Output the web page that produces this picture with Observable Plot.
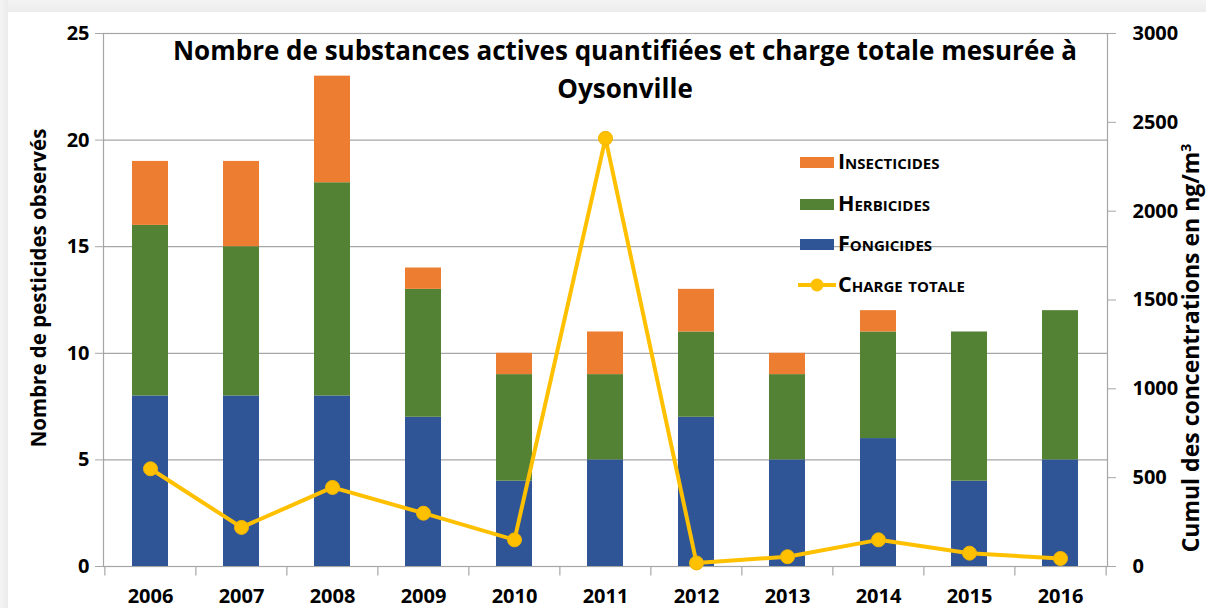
<!DOCTYPE html>
<html>
<head>
<meta charset="utf-8">
<script src="https://cdn.jsdelivr.net/npm/d3@7"></script>
<script src="https://cdn.jsdelivr.net/npm/@observablehq/plot@0.6"></script>
<style>
  html, body { margin: 0; padding: 0; background: #fff; }
  #wrap { position: relative; width: 1206px; height: 608px; overflow: hidden; font-family: "Open Sans", sans-serif; }
  #bgTop { position: absolute; left: 0; top: 0; width: 1206px; height: 12px; background: linear-gradient(#f4f4f4, #ececec); }
  #bgLeft { position: absolute; left: 0; top: 0; width: 8px; height: 608px; background: linear-gradient(90deg, #f4f4f4, #ececec); }
  #title { position: absolute; left: 125px; top: 31px; width: 1000px; text-align: center; font-weight: bold; font-size: 26px; line-height: 38px; color: #000; }
  #legend { position: absolute; left: 797px; top: 149px; font-weight: bold; font-variant: small-caps; font-size: 21.5px; color: #000; }
  .row { position: absolute; left: 0; height: 26px; white-space: nowrap; }
  .sw { position: absolute; left: 3px; top: 8px; width: 34px; height: 11px; }
  .lbl { position: absolute; left: 41px; top: -3px; letter-spacing: 0px; }
  #ylabL { position: absolute; left: 38px; top: 288px; transform: translate(-50%, -50%) rotate(-90deg); font-weight: bold; font-size: 20.5px; line-height: 24px; white-space: nowrap; }
  #ylabR { position: absolute; left: 1188px; top: 348px; transform: translate(-50%, -50%) rotate(-90deg); font-weight: bold; font-size: 23px; line-height: 24px; white-space: nowrap; }
  svg { position: absolute; left: 0; top: 0; }
</style>
</head>
<body>
<div id="wrap">
  <div id="bgTop"></div>
  <div id="bgLeft"></div>
</div>
<script>
const years = ["2006","2007","2008","2009","2010","2011","2012","2013","2014","2015","2016"];
const fongicides   = [8, 8, 8, 7, 4, 5, 7, 5, 6, 4, 5];
const herbicides   = [8, 7, 10, 6, 5, 4, 4, 4, 5, 7, 7];
const insecticides = [3, 4, 5, 1, 1, 2, 2, 1, 1, 0, 0];
const chargeTotale = [550, 220, 445, 300, 150, 2410, 20, 55, 150, 75, 45];
const types = ["Fongicides", "Herbicides", "Insecticides"];
const typeColors = ["#2F5597", "#548235", "#ED7D31"];
const leftTicks = [0, 5, 10, 15, 20, 25];
const rightTicks = [0, 500, 1000, 1500, 2000, 2500, 3000];
const titleText = "Nombre de substances actives quantifiées et charge totale mesurée à Oysonville";
const yLabelLeft = "Nombre de pesticides observés";
const yLabelRight = "Cumul des concentrations en ng/m³";
const legendLabels = ["Insecticides", "Herbicides", "Fongicides", "Charge totale"];

const series = [fongicides, herbicides, insecticides];
const bars = [];
types.forEach((t, i) => years.forEach((y, j) => bars.push({year: y, type: t, value: series[i][j]})));
const line = years.map((y, j) => ({year: y, charge: chargeTotale[j]}));
const k = 25 / 3000; // right axis -> left axis units

const W = 1206, H = 608, mL = 103, mR = 99, mT = 33, mB = 42;
const step = (W - mL - mR) / years.length;

const chart = Plot.plot({
  width: W, height: H,
  marginLeft: mL, marginRight: mR, marginTop: mT, marginBottom: mB,
  style: {fontFamily: "Open Sans, sans-serif", fontWeight: "bold", fontSize: "20px", color: "#000", background: "transparent", overflow: "visible"},
  x: {domain: years, paddingInner: 0.6, paddingOuter: 0.3, axis: null},
  y: {domain: [0, 25], axis: null},
  color: {domain: types, range: typeColors},
  marks: [
    Plot.ruleY(leftTicks, {stroke: "#a6a6a6", strokeWidth: 1.2}),
    Plot.frame({stroke: "#a6a6a6", strokeWidth: 1.2}),
    Plot.axisY({anchor: "left", label: null, ticks: leftTicks, tickSize: 8, tickPadding: 6, stroke: "#a6a6a6", fill: "#000", fontSize: 20, fontWeight: "bold"}),
    Plot.axisY({anchor: "right", label: null, ticks: rightTicks.map(v => v * k), tickFormat: d => String(Math.round(d / k)), tickSize: 8, tickPadding: 17, stroke: "#a6a6a6", fill: "#000", fontSize: 20, fontWeight: "bold"}),
    Plot.axisX({label: null, ticks: years, tickSize: 0, tickPadding: 22, fill: "#000", fontSize: 20, fontWeight: "bold"}),
    Plot.ruleX(years, {x: d => d, dx: -step / 2, y1: 0, y2: -0.45, stroke: "#a6a6a6", strokeWidth: 1.2}),
    Plot.ruleX([years[years.length - 1]], {x: d => d, dx: step / 2, y1: 0, y2: -0.45, stroke: "#a6a6a6", strokeWidth: 1.2}),
    Plot.barY(bars, {x: "year", y: "value", fill: "type"}),
    Plot.line(line, {x: "year", y: d => d.charge * k, stroke: "#FFC000", strokeWidth: 4}),
    Plot.dot(line, {x: "year", y: d => d.charge * k, r: 7, fill: "#FFC000", stroke: "#F2B600", strokeWidth: 1})
  ]
});

const wrap = document.getElementById("wrap");
wrap.appendChild(chart);

const title = document.createElement("div");
title.id = "title";
const cut = titleText.lastIndexOf(" ");
title.innerHTML = titleText.slice(0, cut) + "<br>" + titleText.slice(cut + 1);
wrap.appendChild(title);

const yl = document.createElement("div"); yl.id = "ylabL"; yl.textContent = yLabelLeft; wrap.appendChild(yl);
const yr = document.createElement("div"); yr.id = "ylabR";
yr.innerHTML = yLabelRight.replace("³", "<sup style='font-size:14px'>3</sup>");
wrap.appendChild(yr);

const legend = document.createElement("div"); legend.id = "legend";
const legendColors = ["#ED7D31", "#548235", "#2F5597"];
const rowTops = [0, 42, 82, 123];
legendLabels.forEach((lab, i) => {
  const row = document.createElement("div"); row.className = "row"; row.style.top = rowTops[i] + "px";
  if (i < 3) {
    const sw = document.createElement("div"); sw.className = "sw"; sw.style.background = legendColors[i]; row.appendChild(sw);
  } else {
    const svgNS = "http://www.w3.org/2000/svg";
    const s = document.createElementNS(svgNS, "svg");
    s.setAttribute("width", 40); s.setAttribute("height", 26);
    s.style.position = "absolute"; s.style.left = "0px"; s.style.top = "0px";
    const l = document.createElementNS(svgNS, "line");
    l.setAttribute("x1", 1); l.setAttribute("x2", 39); l.setAttribute("y1", 13); l.setAttribute("y2", 13);
    l.setAttribute("stroke", "#FFC000"); l.setAttribute("stroke-width", 4);
    const c = document.createElementNS(svgNS, "circle");
    c.setAttribute("cx", 20); c.setAttribute("cy", 13); c.setAttribute("r", 6.5); c.setAttribute("fill", "#FFC000");
    s.appendChild(l); s.appendChild(c); row.appendChild(s);
  }
  const t = document.createElement("div"); t.className = "lbl"; t.textContent = lab; row.appendChild(t);
  legend.appendChild(row);
});
wrap.appendChild(legend);
</script>
</body>
</html>
